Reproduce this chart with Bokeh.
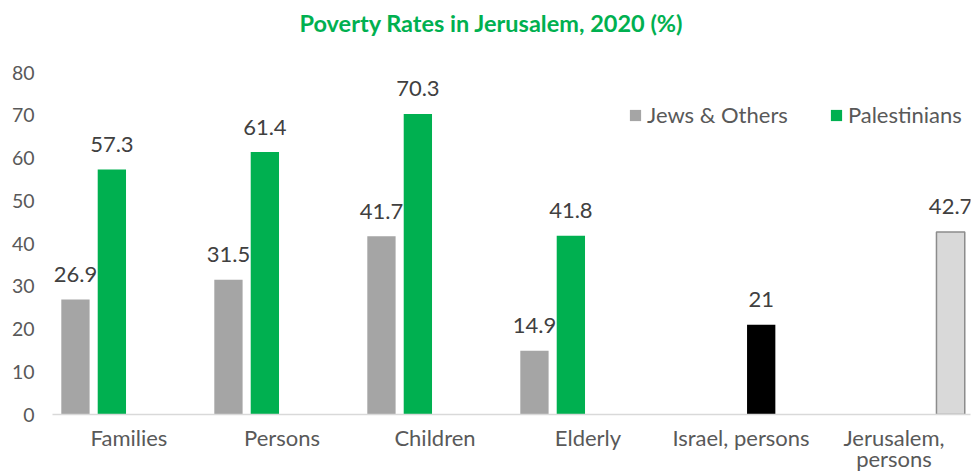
from bokeh.plotting import figure
from bokeh.models import ColumnDataSource, Range1d, Legend, LegendItem, Label
from bokeh.transform import dodge
from bokeh.core.properties import value
from bokeh.embed import file_html
from bokeh.resources import INLINE

title_text = "Poverty Rates in Jerusalem, 2020 (%)"

categories = ["Families", "Persons", "Children", "Elderly", "Israel, persons", "Jerusalem,\npersons"]

jews_cats = ["Families", "Persons", "Children", "Elderly"]
jews_vals = [26.9, 31.5, 41.7, 14.9]

pal_cats = ["Families", "Persons", "Children", "Elderly"]
pal_vals = [57.3, 61.4, 70.3, 41.8]

israel_cats = ["Israel, persons"]
israel_vals = [21]

jlm_cats = ["Jerusalem,\npersons"]
jlm_vals = [42.7]

y_ticks = [0, 10, 20, 30, 40, 50, 60, 70, 80]

FONT = "Lato"

# frame spans the full height above the x axis so the title can sit inside it;
# the visible value axis runs 0..80 (80 at 72px from top, 0 at 414px)
Y_MAX = 80
y_top = Y_MAX * 414 / 342

p = figure(x_range=categories, y_range=Range1d(0, y_top), width=972, height=475,
           output_backend="svg", toolbar_location=None,
           min_border_left=52, min_border_right=2, min_border_top=0, min_border_bottom=61)
p.outline_line_color = None
p.background_fill_color = "white"
p.border_fill_color = "white"

p.xgrid.grid_line_color = None
p.ygrid.grid_line_color = None

p.yaxis.ticker = y_ticks
p.yaxis.axis_line_color = None
p.yaxis.major_tick_line_color = None
p.yaxis.minor_tick_line_color = None
p.yaxis.major_label_text_font = FONT
p.yaxis.major_label_text_font_size = "19.5px"
p.yaxis.major_label_text_color = "#595959"
p.yaxis.major_label_standoff = 12

p.xaxis.axis_line_color = "#d9d9d9"
p.xaxis.axis_line_width = 1.5
p.xaxis.major_tick_line_color = None
p.xaxis.minor_tick_line_color = None
p.xaxis.major_label_text_font = FONT
p.xaxis.major_label_text_font_size = "22px"
p.xaxis.major_label_text_line_height = 0.8
p.xaxis.major_label_text_color = "#595959"
p.xaxis.major_label_standoff = 3
p.x_range.range_padding = 0

W = 0.185
series = [
    (jews_cats, jews_vals, -0.35, "#a5a5a5", "#a5a5a5", 0),
    (pal_cats, pal_vals, -0.112, "#00b050", "#00b050", 0),
    (israel_cats, israel_vals, 0.132, "#000000", "#000000", 0),
    (jlm_cats, jlm_vals, 0.37, "#d9d9d9", "#8c8c8c", 1.5),
]
renderers = []
for cats, vals, off, fill, line, lw in series:
    src = ColumnDataSource(dict(cat=cats, val=vals, lab=[f"{v:g}" for v in vals]))
    r = p.vbar(x=dodge("cat", off, range=p.x_range), top="val", width=W, source=src,
               fill_color=fill, line_color=line if lw else None, line_width=lw)
    renderers.append(r)
    p.text(x=dodge("cat", off, range=p.x_range), y="val", text="lab", source=src,
           text_align="center", text_baseline="alphabetic", y_offset=-25,
           text_font=value(FONT), text_font_size="22px", text_color="#404040")

title = Label(x=2.87, y=Y_MAX, x_units="data", y_units="data", y_offset=50,
              text=title_text, text_align="center", text_baseline="middle",
              text_font=FONT, text_font_style="bold", text_font_size="23.5px",
              text_color="#00b050")
p.add_layout(title)

legend = Legend(items=[LegendItem(label="Jews & Others", renderers=[renderers[0]]),
                       LegendItem(label="Palestinians", renderers=[renderers[1]])],
                location=(576, 286), orientation="horizontal")
legend.border_line_color = None
legend.background_fill_alpha = 0
legend.padding = 0
legend.margin = 0
legend.spacing = 41
legend.label_standoff = 5
legend.glyph_width = 14
legend.glyph_height = 14
legend.label_text_font = FONT
legend.label_text_font_size = "22px"
legend.label_text_color = "#595959"
p.add_layout(legend, "center")

open("out.html", "w").write(file_html(p, INLINE))
